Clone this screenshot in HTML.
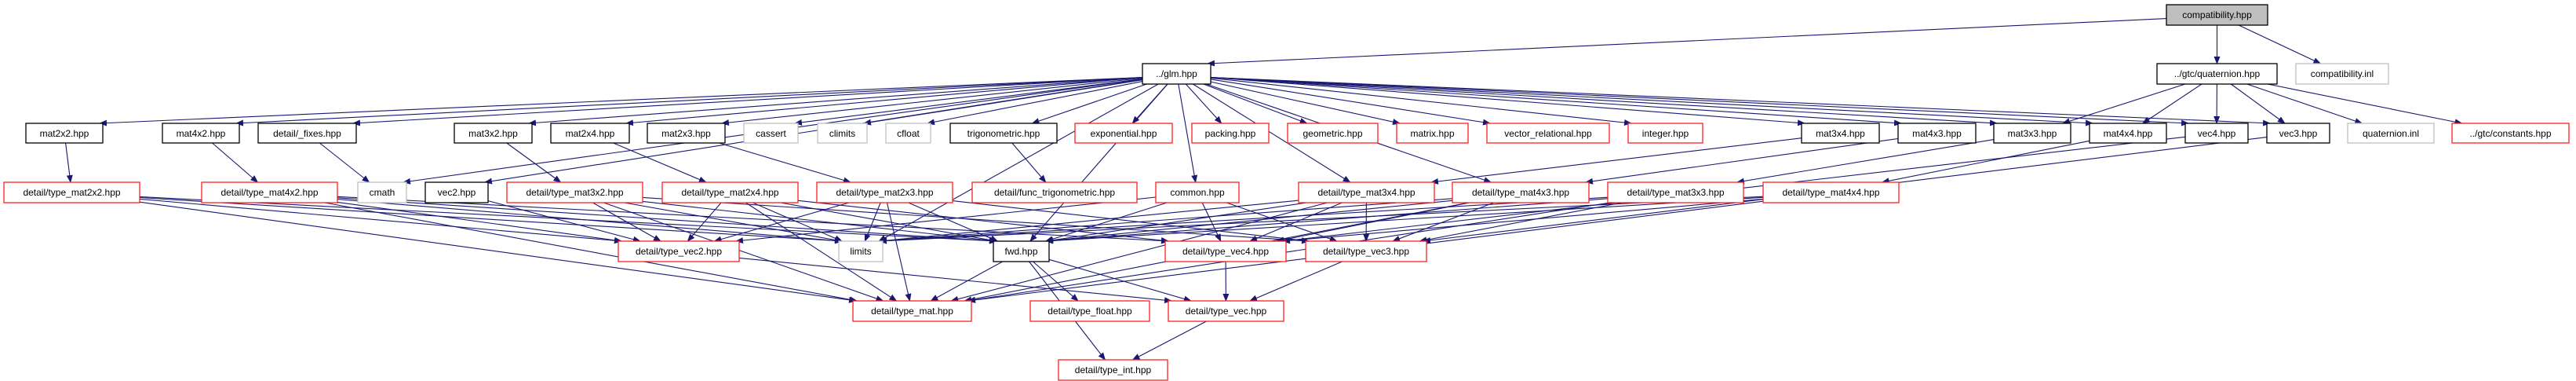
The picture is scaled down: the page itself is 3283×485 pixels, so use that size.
<!DOCTYPE html>
<html><head><meta charset="utf-8"><style>
html,body{margin:0;padding:0;background:#fff;}
svg{display:block;}
rect{stroke-width:1.3;fill:#fff;}
.k{stroke:#000;} .r{stroke:#ff2020;} .g{stroke:#c0c0c0;} .root{stroke:#000;fill:#bfbfbf;}
text{font-family:"Liberation Sans",sans-serif;font-size:12px;text-anchor:middle;fill:#000;}
</style></head><body>
<svg id="s" width="3283" height="485" viewBox="0 0 3283 485" xmlns="http://www.w3.org/2000/svg">
<defs><marker id="a" markerWidth="10" markerHeight="8" refX="9" refY="4" orient="auto" markerUnits="userSpaceOnUse"><path d="M0,0 L10,4 L0,8 z" fill="#191970"/></marker></defs>
<g id="edges" fill="none" stroke="#191970" stroke-width="1.1"></g>
<g id="nodes">
<rect id="root" class="root" x="2761" y="6" width="129" height="26"/><text x="2825.5" y="23">compatibility.hpp</text>
<rect id="glm" class="k" x="1456" y="81" width="87" height="26"/><text x="1499.5" y="98">../glm.hpp</text>
<rect id="quat" class="k" x="2749" y="81" width="153" height="26"/><text x="2825.5" y="98">../gtc/quaternion.hpp</text>
<rect id="cinl" class="g" x="2926" y="81" width="118" height="26"/><text x="2985" y="98">compatibility.inl</text>

<rect id="m22" class="k" x="33" y="157" width="98" height="25"/><text x="82" y="174">mat2x2.hpp</text>
<rect id="m42" class="k" x="207" y="157" width="98" height="25"/><text x="256" y="174">mat4x2.hpp</text>
<rect id="fixes" class="k" x="329" y="157" width="125" height="25"/><text x="391.5" y="174">detail/_fixes.hpp</text>
<rect id="m32" class="k" x="579" y="157" width="99" height="25"/><text x="628.5" y="174">mat3x2.hpp</text>
<rect id="m24" class="k" x="702" y="157" width="100" height="25"/><text x="752" y="174">mat2x4.hpp</text>
<rect id="m23" class="k" x="825" y="157" width="99" height="25"/><text x="874.5" y="174">mat2x3.hpp</text>
<rect id="cassert" class="g" x="948" y="157" width="69" height="25"/><text x="982.5" y="174">cassert</text>
<rect id="climits" class="g" x="1042" y="157" width="63" height="25"/><text x="1073.5" y="174">climits</text>
<rect id="cfloat" class="g" x="1129" y="157" width="57" height="25"/><text x="1157.5" y="174">cfloat</text>
<rect id="trig" class="k" x="1211" y="157" width="136" height="25"/><text x="1279" y="174">trigonometric.hpp</text>
<rect id="expo" class="r" x="1370" y="157" width="124" height="25"/><text x="1432" y="174">exponential.hpp</text>
<rect id="pack" class="r" x="1519" y="157" width="98" height="25"/><text x="1568" y="174">packing.hpp</text>
<rect id="geom" class="r" x="1641" y="157" width="115" height="25"/><text x="1698.5" y="174">geometric.hpp</text>
<rect id="matrix" class="r" x="1780" y="157" width="91" height="25"/><text x="1825.5" y="174">matrix.hpp</text>
<rect id="vrel" class="r" x="1895" y="157" width="156" height="25"/><text x="1973" y="174">vector_relational.hpp</text>
<rect id="integer" class="r" x="2075" y="157" width="95" height="25"/><text x="2122.5" y="174">integer.hpp</text>
<rect id="m34" class="k" x="2296" y="157" width="99" height="25"/><text x="2345.5" y="174">mat3x4.hpp</text>
<rect id="m43" class="k" x="2419" y="157" width="99" height="25"/><text x="2468.5" y="174">mat4x3.hpp</text>
<rect id="m33" class="k" x="2541" y="157" width="98" height="25"/><text x="2590" y="174">mat3x3.hpp</text>
<rect id="m44" class="k" x="2663" y="157" width="98" height="25"/><text x="2712" y="174">mat4x4.hpp</text>
<rect id="v4" class="k" x="2785" y="157" width="80" height="25"/><text x="2825" y="174">vec4.hpp</text>
<rect id="v3" class="k" x="2889" y="157" width="80" height="25"/><text x="2929" y="174">vec3.hpp</text>
<rect id="qinl" class="g" x="2992" y="157" width="110" height="25"/><text x="3047" y="174">quaternion.inl</text>
<rect id="const" class="r" x="3125" y="157" width="149" height="25"/><text x="3199.5" y="174">../gtc/constants.hpp</text>

<rect id="tm22" class="r" x="5" y="232" width="173" height="26"/><text x="91.5" y="249">detail/type_mat2x2.hpp</text>
<rect id="tm42" class="r" x="257" y="232" width="173" height="26"/><text x="343.5" y="249">detail/type_mat4x2.hpp</text>
<rect id="cmath" class="g" x="456" y="232" width="62" height="26"/><text x="487" y="249">cmath</text>
<rect id="v2" class="k" x="542" y="232" width="80" height="26"/><text x="582" y="249">vec2.hpp</text>
<rect id="tm32" class="r" x="646" y="232" width="173" height="26"/><text x="732.5" y="249">detail/type_mat3x2.hpp</text>
<rect id="tm24" class="r" x="844" y="232" width="173" height="26"/><text x="930.5" y="249">detail/type_mat2x4.hpp</text>
<rect id="tm23" class="r" x="1041" y="232" width="173" height="26"/><text x="1127.5" y="249">detail/type_mat2x3.hpp</text>
<rect id="ftrig" class="r" x="1239" y="232" width="210" height="26"/><text x="1344" y="249">detail/func_trigonometric.hpp</text>
<rect id="common" class="r" x="1473" y="232" width="106" height="26"/><text x="1526" y="249">common.hpp</text>
<rect id="tm34" class="r" x="1655" y="232" width="173" height="26"/><text x="1741.5" y="249">detail/type_mat3x4.hpp</text>
<rect id="tm43" class="r" x="1851" y="232" width="174" height="26"/><text x="1938" y="249">detail/type_mat4x3.hpp</text>
<rect id="tm33" class="r" x="2049" y="232" width="173" height="26"/><text x="2135.5" y="249">detail/type_mat3x3.hpp</text>
<rect id="tm44" class="r" x="2247" y="232" width="173" height="26"/><text x="2333.5" y="249">detail/type_mat4x4.hpp</text>

<rect id="tv2" class="r" x="788" y="307" width="154" height="26"/><text x="865" y="324">detail/type_vec2.hpp</text>
<rect id="limits" class="g" x="1069" y="307" width="56" height="26"/><text x="1097" y="324">limits</text>
<rect id="fwd" class="k" x="1266" y="307" width="71" height="26"/><text x="1301.5" y="324">fwd.hpp</text>
<rect id="tv4" class="r" x="1485" y="307" width="154" height="26"/><text x="1562" y="324">detail/type_vec4.hpp</text>
<rect id="tv3" class="r" x="1664" y="307" width="154" height="26"/><text x="1741" y="324">detail/type_vec3.hpp</text>

<rect id="tmat" class="r" x="1087" y="383" width="151" height="26"/><text x="1162.5" y="400">detail/type_mat.hpp</text>
<rect id="tfloat" class="r" x="1313" y="383" width="152" height="26"/><text x="1389" y="400">detail/type_float.hpp</text>
<rect id="tvec" class="r" x="1489" y="383" width="147" height="26"/><text x="1562.5" y="400">detail/type_vec.hpp</text>
<rect id="tint" class="r" x="1349" y="458" width="139" height="26"/><text x="1418.5" y="475">detail/type_int.hpp</text>
</g>
</svg>
<script>
(function(){
var E=[
"root glm","root quat","root cinl",
"quat m33","quat m44","quat v4","quat v3","quat qinl","quat const",
"glm m22","glm m42","glm fixes","glm cmath","glm v2","glm m32","glm m24","glm m23","glm cassert","glm climits","glm cfloat","glm trig","glm expo","glm pack","glm geom","glm matrix","glm vrel","glm integer","glm m34","glm m43","glm m33","glm m44","glm v4","glm v3","glm common","glm tm34","glm tm43","glm limits","glm fwd",
"m22 tm22","m42 tm42","fixes cmath","m32 tm32","m24 tm24","m23 tm23","trig ftrig","m34 tm34","m43 tm43","m33 tm33","m44 tm44","v4 tv4","v3 tv3","v2 tv2",
"tm22 tv2","tm42 tv4","tm42 tv2","tm32 tv3","tm32 tv2","tm24 tv2","tm24 tv4","tm23 tv2","tm23 tv3","tm34 tv3","tm34 tv4","tm43 tv4","tm43 tv3","tm33 tv3","tm44 tv4",
"common tv4","common tv3","common fwd","common tv2",
"tv2 tvec","tv3 tvec","tv4 tvec","fwd tmat","fwd tfloat","fwd tvec","fwd tint","tvec tint"
];
["tm22","tm42","tm32","tm24","tm23","tm34","tm43","tm33","tm44"].forEach(function(m){E.push(m+" limits",m+" fwd",m+" tmat");});
function R(id){var r=document.getElementById(id);return{x:+r.getAttribute("x"),y:+r.getAttribute("y"),w:+r.getAttribute("width"),h:+r.getAttribute("height")};}
var g=document.getElementById("edges"),ns="http://www.w3.org/2000/svg";
E.forEach(function(s){var p=s.split(" "),a=R(p[0]),b=R(p[1]);
var ax=a.x+a.w/2,ay=a.y+a.h/2,bx=b.x+b.w/2,by=b.y+b.h/2;var dx=bx-ax,dy=by-ay;
// start: bottom edge if possible, else side with y biased to lower part
var sx,sy,off=dx*(a.h/2)/dy;
if(Math.abs(off)<=a.w/2){sx=ax+off;sy=a.y+a.h;}
else{sx=dx<0?a.x:a.x+a.w;var f=(a.w/2)/Math.abs(off);sy=ay+a.h/2*Math.max(f,0.35);}
// end: always top edge
var eo=-dx*(b.h/2)/dy;var lim=b.w/2-4;eo=Math.max(-lim,Math.min(lim,eo));
var ex=bx+eo,ey=b.y;
var path=document.createElementNS(ns,"path");
path.setAttribute("d","M"+sx.toFixed(1)+","+sy.toFixed(1)+" L"+ex.toFixed(1)+","+ey.toFixed(1));
path.setAttribute("marker-end","url(#a)");g.appendChild(path);});
})();
</script>
</body></html>
